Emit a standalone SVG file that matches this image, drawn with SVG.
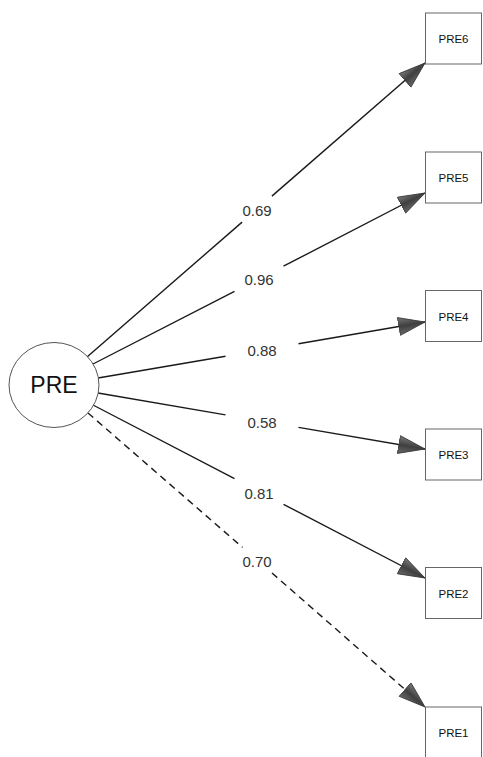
<svg xmlns="http://www.w3.org/2000/svg" width="483" height="757" viewBox="0 0 483 757">
<style>
.bg{fill:#ffffff}
.lat{fill:#ffffff;stroke:#555555;stroke-width:1}
.box{fill:#ffffff;stroke:#666666;stroke-width:1}
.ln{stroke:#1a1a1a;stroke-width:1.4;fill:none}
.dash{stroke-dasharray:7,5}
.lbl{font-family:"Liberation Sans",Arial,sans-serif;font-size:15px;fill:#333333;text-anchor:middle;dominant-baseline:central}
.big{font-family:"Liberation Sans",Arial,sans-serif;font-size:23px;fill:#111111;text-anchor:middle}
.small{font-family:"Liberation Sans",Arial,sans-serif;font-size:11.5px;fill:#111111;text-anchor:middle;dominant-baseline:central}
</style>
<defs>
<linearGradient id="ag" x1="0" y1="0" x2="0" y2="1">
<stop offset="0" stop-color="#7a7a7a"/>
<stop offset="0.5" stop-color="#3f3f3f"/>
<stop offset="1" stop-color="#6a6a6a"/>
</linearGradient>
<marker id="arr" markerUnits="userSpaceOnUse" markerWidth="28" markerHeight="20" refX="27" refY="9.5" orient="auto" viewBox="0 0 28 20">
<path d="M0.5,0.5 L27,9.5 L0.5,18.5 Z" fill="url(#ag)" stroke="#333333" stroke-width="0.8" stroke-linejoin="round"/>
</marker>
</defs>
<rect class="bg" x="0" y="0" width="483" height="757"/>
<g id="connectors">
<line class="ln" x1="87" y1="357" x2="242.1" y2="222.1"/>
<line class="ln" x1="271.9" y1="196.1" x2="425" y2="63" marker-end="url(#arr)"/>
<line class="ln" x1="93" y1="364" x2="234.5" y2="291.4"/>
<line class="ln" x1="283.5" y1="266.2" x2="425" y2="193" marker-end="url(#arr)"/>
<line class="ln" x1="98" y1="378" x2="225.5" y2="356.2"/>
<line class="ln" x1="298.5" y1="343.7" x2="425" y2="322" marker-end="url(#arr)"/>
<line class="ln" x1="98" y1="393" x2="225.5" y2="414.9"/>
<line class="ln" x1="298.5" y1="427.4" x2="425" y2="449" marker-end="url(#arr)"/>
<line class="ln" x1="93" y1="405" x2="234.5" y2="478.7"/>
<line class="ln" x1="283.5" y1="504.3" x2="425" y2="578" marker-end="url(#arr)"/>
<line class="ln dash" x1="88" y1="413" x2="242.5" y2="547.4"/>
<line class="ln dash" x1="272" y1="573" x2="425" y2="707" marker-end="url(#arr)"/>
<text class="lbl" x="257" y="210">0.69</text>
<text class="lbl" x="259" y="279">0.96</text>
<text class="lbl" x="262" y="350">0.88</text>
<text class="lbl" x="262" y="422">0.58</text>
<text class="lbl" x="259" y="493">0.81</text>
<text class="lbl" x="257" y="561">0.70</text>
</g>
<g id="PRE">
<ellipse class="lat" cx="54" cy="385" rx="45" ry="42.5"/>
<text class="big" x="54" y="393">PRE</text>
</g>
<g id="PRE6">
<rect class="box" x="425.5" y="13" width="56" height="51"/>
<text class="small" x="453.5" y="39">PRE6</text>
</g>
<g id="PRE5">
<rect class="box" x="425.5" y="152" width="56" height="51"/>
<text class="small" x="453.5" y="178">PRE5</text>
</g>
<g id="PRE4">
<rect class="box" x="425.5" y="290.5" width="56" height="51"/>
<text class="small" x="453.5" y="316.5">PRE4</text>
</g>
<g id="PRE3">
<rect class="box" x="425.5" y="429" width="56" height="51"/>
<text class="small" x="453.5" y="455">PRE3</text>
</g>
<g id="PRE2">
<rect class="box" x="425.5" y="567.5" width="56" height="51"/>
<text class="small" x="453.5" y="593.5">PRE2</text>
</g>
<g id="PRE1">
<rect class="box" x="425.5" y="707" width="56" height="51"/>
<text class="small" x="453.5" y="733">PRE1</text>
</g>
</svg>
